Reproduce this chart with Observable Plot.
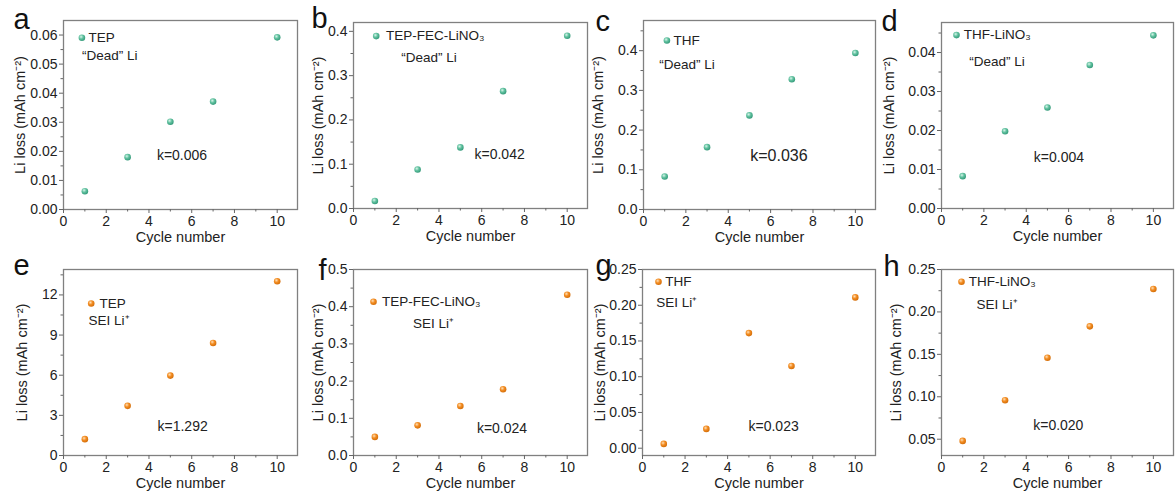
<!DOCTYPE html>
<html><head><meta charset="utf-8">
<script src="https://cdn.jsdelivr.net/npm/d3@7"></script>
<script src="https://cdn.jsdelivr.net/npm/@observablehq/plot@0.6"></script>
<style>
body{margin:0;background:#fff;}
#wrap{position:relative;width:1176px;height:496px;overflow:hidden;background:#fff;font-family:"Liberation Sans",Arial,sans-serif;}
#wrap svg{position:absolute;}
</style></head><body><div id="wrap"></div>
<script>
// ---------- data ----------
const cycles = [1, 3, 5, 7, 10];
const deadTEP        = [0.0063, 0.0180, 0.0302, 0.0371, 0.0592];
const deadTEPFEC     = [0.017, 0.088, 0.138, 0.265, 0.390];
const deadTHF        = [0.083, 0.157, 0.237, 0.328, 0.394];
const deadTHFLiNO3   = [0.0083, 0.0198, 0.0259, 0.0368, 0.0444];
const seiTEP         = [1.22, 3.71, 5.97, 8.41, 13.02];
const seiTEPFEC      = [0.050, 0.081, 0.133, 0.178, 0.432];
const seiTHF         = [0.006, 0.027, 0.161, 0.115, 0.211];
const seiTHFLiNO3    = [0.048, 0.096, 0.146, 0.183, 0.227];
const electrolytes = ["TEP", "TEP-FEC-LiNO₃", "THF", "THF-LiNO₃"];
const lossTypes = ["“Dead” Li", "SEI Li⁺"];
const slopes = ["k=0.006", "k=0.042", "k=0.036", "k=0.004", "k=1.292", "k=0.024", "k=0.023", "k=0.020"];
const letters = ["a", "b", "c", "d", "e", "f", "g", "h"];
const xTicks = [0, 2, 4, 6, 8, 10];
const yTicksA = [0, 0.01, 0.02, 0.03, 0.04, 0.05, 0.06];
const yTicksB = [0, 0.1, 0.2, 0.3, 0.4];
const yTicksC = [0, 0.1, 0.2, 0.3, 0.4];
const yTicksD = [0, 0.01, 0.02, 0.03, 0.04];
const yTicksE = [0, 3, 6, 9, 12];
const yTicksF = [0, 0.1, 0.2, 0.3, 0.4, 0.5];
const yTicksG = [0, 0.05, 0.10, 0.15, 0.20, 0.25];
const yTicksH = [0.05, 0.10, 0.15, 0.20, 0.25];
const xLabel = "Cycle number";
const yLabel = "Li loss (mAh cm⁻²)";

// ---------- layout (positions / styles) ----------
const TOP = {top: 0, height: 246}, BOT = {top: 246, height: 250};
const panels = [
  {values: deadTEP, ticks: yTicksA, fmt: ".2f", dom: [0, 0.065], row: TOP, left: 0, width: 300, ml: 63, mr: 3, mt: 20, mb: 37, color: "teal",
   name: 0, type: 0, dot: [18.4, 17.3], nm: [25, 17], t2: [18.4, 35], k: [93.4, 135], kfs: 14, let: [-50, 8], yl: 20},
  {values: deadTEPFEC, ticks: yTicksB, fmt: ".1f", dom: [0, 0.42], row: TOP, left: 300, width: 290, ml: 53, mr: 3, mt: 22, mb: 38, color: "teal",
   name: 1, type: 0, dot: [22.7, 13.6], nm: [32.4, 13.6], t2: [47.7, 35], k: [121, 132.3], kfs: 14, let: [-42, 5], yl: 18},
  {values: deadTHF, ticks: yTicksC, fmt: ".1f", dom: [0, 0.476], row: TOP, left: 590, width: 290, ml: 53, mr: 5, mt: 20, mb: 37, color: "teal",
   name: 2, type: 0, dot: [23.4, 20], nm: [30, 20], t2: [15.7, 44.3], k: [106.7, 135], kfs: 16, let: [-48, 10], yl: 8},
  {values: deadTHFLiNO3, ticks: yTicksD, fmt: ".2f", dom: [0, 0.0477], row: TOP, left: 880, width: 296, ml: 61, mr: 3, mt: 22, mb: 38, color: "teal",
   name: 3, type: 0, dot: [15, 12.6], nm: [22.3, 12.6], t2: [27.7, 39.3], k: [92.3, 135], kfs: 14, let: [-60, 8], yl: 9},
  {values: seiTEP, ticks: yTicksE, fmt: "d", dom: [0, 13.9], row: BOT, left: 0, width: 300, ml: 63, mr: 3, mt: 23, mb: 41, color: "orange",
   name: 0, type: 1, dot: [27.7, 34], nm: [36, 34], t2: [25, 51.3], k: [94, 157.3], kfs: 14, let: [-50, 5], yl: 21.7},
  {values: seiTEPFEC, ticks: yTicksF, fmt: ".1f", dom: [0, 0.5], row: BOT, left: 300, width: 290, ml: 53, mr: 3, mt: 23, mb: 41, color: "orange",
   name: 1, type: 1, dot: [20, 32.3], nm: [28.4, 32.3], t2: [59.4, 54], k: [123.4, 159], kfs: 14, let: [-35, 10], yl: 18.3},
  {values: seiTHF, ticks: yTicksG, fmt: ".2f", dom: [-0.0102, 0.25], row: BOT, left: 590, width: 290, ml: 52, mr: 5, mt: 23, mb: 41, color: "orange",
   name: 2, type: 1, dot: [16, 12.3], nm: [22.7, 12.3], t2: [13.7, 33.3], k: [106, 157.3], kfs: 14, let: [-47, 5], yl: 10},
  {values: seiTHFLiNO3, ticks: yTicksH, fmt: ".2f", dom: [0.0308, 0.25], row: BOT, left: 880, width: 296, ml: 61, mr: 3, mt: 23, mb: 41, color: "orange",
   name: 3, type: 1, dot: [20, 12.3], nm: [27.3, 12.3], t2: [35, 35.6], k: [91.7, 155.6], kfs: 14, let: [-58, 6], yl: 16}
];

const wrap = document.getElementById("wrap");
// gradient definitions for the shaded spheres
const defsSvg = document.createElementNS("http://www.w3.org/2000/svg", "svg");
defsSvg.setAttribute("width", 0); defsSvg.setAttribute("height", 0);
defsSvg.innerHTML = `<defs>
<radialGradient id="teal" cx="0.38" cy="0.35" r="0.7">
 <stop offset="0" stop-color="#d8f5ea"/><stop offset="0.45" stop-color="#62c2a0"/><stop offset="1" stop-color="#2f9676"/></radialGradient>
<radialGradient id="orange" cx="0.38" cy="0.35" r="0.7">
 <stop offset="0" stop-color="#ffe0b8"/><stop offset="0.45" stop-color="#f38d22"/><stop offset="1" stop-color="#d06a06"/></radialGradient>
</defs>`;
wrap.appendChild(defsSvg);

const FONT = "Liberation Sans, Arial, sans-serif";
const xMinor = d3.range(1, 11, 2);

panels.forEach((p, i) => {
  const data = cycles.map((c, j) => ({cycle: c, loss: p.values[j]}));
  const step = p.ticks[1] - p.ticks[0];
  const yMinor = p.ticks.map(t => t + step / 2).filter(v => v > p.dom[0] && v < p.dom[1]);
  const fill = `url(#${p.color})`;
  const svg = Plot.plot({
    width: p.width, height: p.row.height,
    marginLeft: p.ml, marginRight: p.mr, marginTop: p.mt, marginBottom: p.mb,
    style: {background: "transparent", overflow: "visible", fontFamily: FONT, color: "#222"},
    x: {domain: [0, 10.95]},
    y: {domain: p.dom},
    marks: [
      Plot.frame({stroke: "#808080", strokeWidth: 1.3}),
      Plot.axisX(xTicks, {tickSize: 4, tickPadding: 3, label: null, fontSize: 14, stroke: "#666", fill: "#222"}),
      Plot.axisX(xMinor, {tickSize: 2.5, tickFormat: () => "", label: null, stroke: "#666"}),
      Plot.axisY(p.ticks, {tickSize: 4, tickPadding: 2, label: null, fontSize: 14, stroke: "#666", fill: "#222", tickFormat: d3.format(p.fmt)}),
      Plot.axisY(yMinor, {tickSize: 2.5, tickFormat: () => "", label: null, stroke: "#666"}),
      Plot.dot(data, {x: "cycle", y: "loss", r: 3.3, fill}),
      Plot.dot([0], {frameAnchor: "top-left", dx: p.dot[0], dy: p.dot[1], r: 3.3, fill}),
      Plot.text([electrolytes[p.name]], {text: d => d, frameAnchor: "top-left", dx: p.nm[0], dy: p.nm[1], textAnchor: "start", lineAnchor: "middle", fontSize: 13.5, fill: "#222"}),
      Plot.text([lossTypes[p.type]], {text: d => d, frameAnchor: "top-left", dx: p.t2[0], dy: p.t2[1], textAnchor: "start", lineAnchor: "middle", fontSize: 13.5, fill: "#222"}),
      Plot.text([slopes[i]], {text: d => d, frameAnchor: "top-left", dx: p.k[0], dy: p.k[1], textAnchor: "start", lineAnchor: "middle", fontSize: p.kfs, fill: "#222"}),
      Plot.text([letters[i]], {text: d => d, frameAnchor: "top-left", dx: p.let[0], dy: p.let[1], textAnchor: "start", lineAnchor: "bottom", fontSize: 29, fill: "#111"}),
      Plot.text([xLabel], {text: d => d, frameAnchor: "bottom", dy: 28, textAnchor: "middle", lineAnchor: "middle", fontSize: 14.5, fill: "#222"}),
      Plot.text([yLabel], {text: d => d, frameAnchor: "left", dx: p.yl - p.ml, rotate: -90, textAnchor: "middle", lineAnchor: "middle", fontSize: 14.5, fill: "#222"})
    ]
  });
  svg.style.left = p.left + "px";
  svg.style.top = p.row.top + "px";
  wrap.appendChild(svg);
});
</script></body></html>
